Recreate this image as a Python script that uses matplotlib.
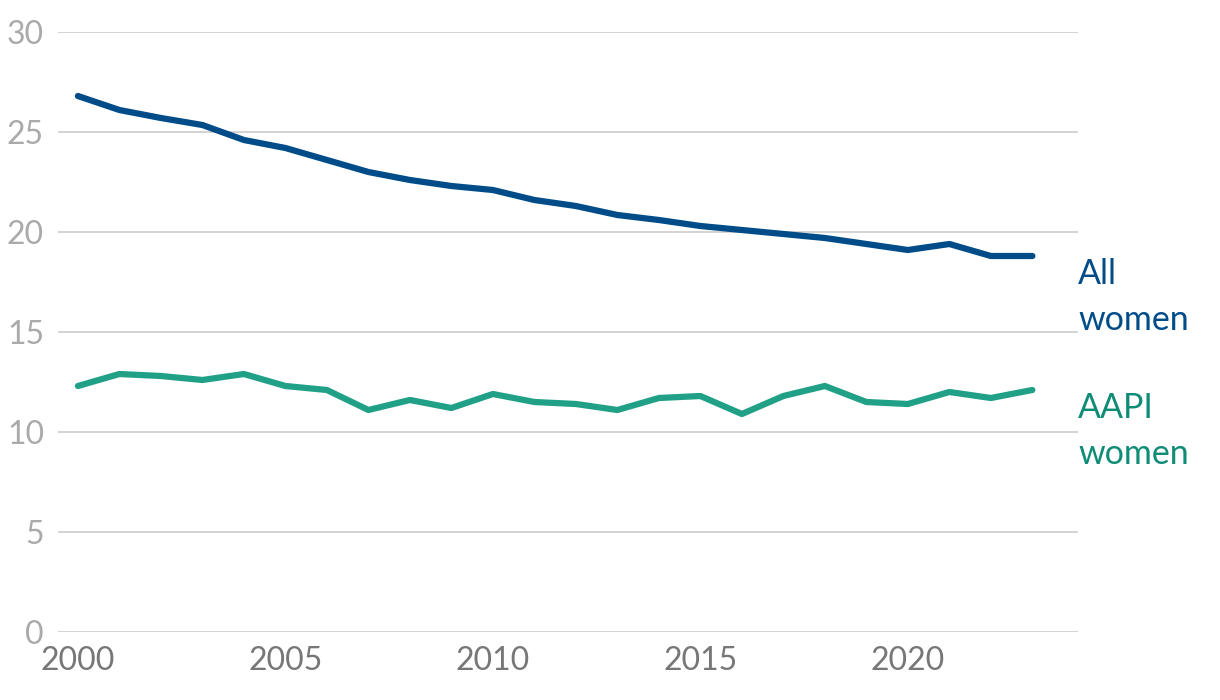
#!/usr/bin/env python3
# -*- coding: utf-8 -*-
"""
Share of women, all vs AAPI, 2000-2023 - line chart with end labels
"""

import matplotlib.pyplot as plt

plt.rcParams['font.family'] = ['Lato', 'DejaVu Sans']

# Data
years = list(range(2000, 2024))
all_women = [26.8, 26.1, 25.7, 25.35, 24.6, 24.2, 23.6, 23.0, 22.6, 22.3,
             22.1, 21.6, 21.3, 20.85, 20.6, 20.3, 20.1, 19.9, 19.7, 19.4,
             19.1, 19.4, 18.8, 18.8]
aapi_women = [12.3, 12.9, 12.8, 12.6, 12.9, 12.3, 12.1, 11.1, 11.6, 11.2,
              11.9, 11.5, 11.4, 11.1, 11.7, 11.8, 10.9, 11.8, 12.3, 11.5,
              11.4, 12.0, 11.7, 12.1]
y_ticks = [0, 5, 10, 15, 20, 25, 30]
x_ticks = [2000, 2005, 2010, 2015, 2020]

NAVY = '#004c89'
TEAL = '#21a088'
TEAL_TEXT = '#0f8c76'


def main():
    fig = plt.figure(figsize=(12.2, 7), dpi=100)
    ax = fig.add_axes([58 / 1220, 68 / 700, 1020 / 1220, 600 / 700])

    for y in y_ticks:
        ax.axhline(y, color='#cccccc', linewidth=1.2, zorder=0)

    ax.plot(years, all_women, color=NAVY, linewidth=4.5,
            solid_capstyle='round', solid_joinstyle='round')
    ax.plot(years, aapi_women, color=TEAL, linewidth=4.5,
            solid_capstyle='round', solid_joinstyle='round')

    ax.set_xlim(1999.52, 2024.1)
    ax.set_ylim(0, 30)
    ax.set_yticks(y_ticks)
    ax.set_xticks(x_ticks)
    ax.tick_params(axis='y', length=0, pad=10, labelsize=23, labelcolor='#aaaaaa')
    ax.tick_params(axis='x', length=0, pad=10, labelsize=23, labelcolor='#777777')
    for s in ax.spines.values():
        s.set_visible(False)

    ax.text(1.0, all_women[-1] - 0.1, 'All\nwomen', transform=ax.get_yaxis_transform(),
            ha='left', va='top', fontsize=24.5, color=NAVY, linespacing=1.55)
    ax.text(1.0, aapi_women[-1] - 0.1, 'AAPI\nwomen', transform=ax.get_yaxis_transform(),
            ha='left', va='top', fontsize=24.5, color=TEAL_TEXT, linespacing=1.55)

    fig.savefig('out.png', dpi=100)
    plt.close(fig)


if __name__ == "__main__":
    main()
